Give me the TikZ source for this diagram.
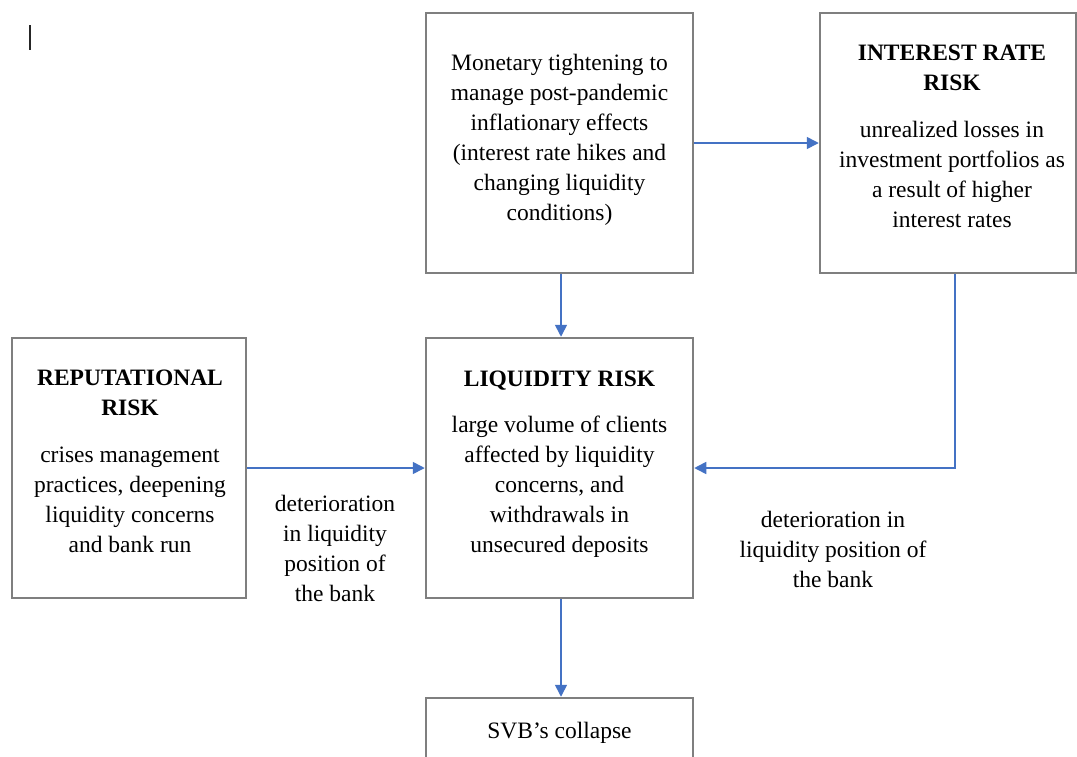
\documentclass[tikz,border=0pt]{standalone}
\usepackage{fontspec}
\setmainfont{Liberation Serif}
\usetikzlibrary{arrows.meta}
\definecolor{boxgray}{HTML}{7F7F7F}
\definecolor{arrblue}{HTML}{4472C4}
\tikzset{
  box/.style={draw=boxgray, line width=2.5pt, rectangle, inner sep=0pt},
  txt/.style={align=center, inner sep=0pt, font=\fontsize{23.5}{30}\selectfont},
  arr/.style={draw=arrblue, line width=1.6pt, -{Triangle[width=12pt,length=12pt]}},
}
\begin{document}
\begin{tikzpicture}[x=1pt,y=-1pt]
\clip (0,0) rectangle (1077,756);
\fill[white] (0,0) rectangle (1077,756);
% cursor mark
\draw[line width=1.5pt, black!85] (30,25) -- (30,50);
% boxes
\node[box, minimum width=267pt, minimum height=260pt] (mon) at (559.5,143) {};
\node[box, minimum width=256pt, minimum height=260pt] (irr) at (948,143) {};
\node[box, minimum width=234pt, minimum height=260pt] (rep) at (129,468) {};
\node[box, minimum width=267pt, minimum height=260pt] (liq) at (559.5,468) {};
\node[box, minimum width=267pt, minimum height=90pt] (svb) at (559.5,743) {};
% texts
\node[txt] (montxt) at (559.5,140) {Monetary tightening to\\manage post-pandemic\\inflationary effects\\(interest rate hikes and\\changing liquidity\\conditions)};
\node[txt] (irrtxt) at (952,136) {{\bfseries INTEREST RATE}\\{\bfseries RISK}\\[17pt]unrealized losses in\\investment portfolios as\\a result of higher\\interest rates};
\node[txt] (reptxt) at (130,461.5) {{\bfseries REPUTATIONAL}\\{\bfseries RISK}\\[17pt]crises management\\practices, deepening\\liquidity concerns\\and bank run};
\node[txt] (liqtxt) at (559.5,464) {{\bfseries LIQUIDITY RISK}\\[16pt]large volume of clients\\affected by liquidity\\concerns, and\\withdrawals in\\unsecured deposits};
\node[txt] (svbtxt) at (559.5,733) {SVB’s collapse};
\node[txt] (lab1) at (335,548) {deterioration\\in liquidity\\position of\\the bank};
\node[txt] (lab2) at (833,549) {deterioration in\\liquidity position of\\the bank};
% connectors
\draw[arr] (mon.east) -- (irr.west);
\draw[arr] ([xshift=1.5pt]mon.south) -- ([xshift=1.5pt]liq.north);
\draw[arr] ([xshift=7pt]irr.south) |- (liq.east);
\draw[arr] (rep.east) -- (liq.west);
\draw[arr] ([xshift=1.5pt]liq.south) -- ([xshift=1.5pt]svb.north);
\end{tikzpicture}
\end{document}
